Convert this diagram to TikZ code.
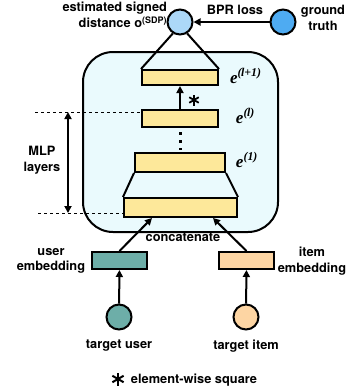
\documentclass[tikz,border=0pt]{standalone}
\usepackage{fontspec}
\setmainfont{TeX Gyre Heros}
\newfontfamily\eserif{Liberation Serif}
\usetikzlibrary{arrows.meta,calc}
\definecolor{boxfill}{HTML}{EAFAFD}
\definecolor{barfill}{HTML}{FDE89A}
\definecolor{estfill}{HTML}{ACD8F8}
\definecolor{gtfill}{HTML}{4EABF2}
\definecolor{userfill}{HTML}{6DAEA8}
\definecolor{itemfill}{HTML}{FDD5A3}
\begin{document}
\begin{tikzpicture}[x=1pt,y=-1pt,
  line width=2pt,
  lbl/.style={font=\fontsize{12.8}{15.5}\selectfont\bfseries, inner sep=0pt, align=center},
  elbl/.style={font=\fontsize{17}{17}\selectfont\eserif\bfseries\itshape, inner sep=0pt, anchor=base west},
  bar/.style={draw, fill=barfill, inner sep=0pt},
  emb/.style={draw, inner sep=0pt, minimum width=55pt, minimum height=17pt},
  ball/.style={draw, circle, inner sep=0pt, minimum size=25pt},
  arr/.style={-{Triangle[length=7pt,width=7pt]}},
  darr/.style={{Triangle[length=7pt,width=7pt]}-{Triangle[length=7pt,width=7pt]}},
  dline/.style={line width=1pt, dash pattern=on 3pt off 3pt}
]
\useasboundingbox (0,0) rectangle (351,392);
% big container
\node[draw, fill=boxfill, rounded corners=30pt, minimum width=195pt, minimum height=180pt, inner sep=0pt] (box) at (180.5,142) {};
% circles
\node[ball, fill=estfill] (est) at (180,22) {};
\node[ball, fill=gtfill] (gt) at (283,22) {};
\draw[arr] (gt) -- (est);
\node[lbl] (bpr) at (235,10) {BPR loss};
\node[lbl] (gtl) at (323,18) {ground\\truth};
\node[lbl, align=right, anchor=east] (estl) at (168,15) {estimated signed\\distance o\textsuperscript{(SDP)}};
% bars
\node[bar, minimum width=76pt, minimum height=15pt] (bar3) at (180,77.5) {};
\node[bar, minimum width=76pt, minimum height=17pt] (bar2) at (180,118.5) {};
\node[bar, minimum width=90pt, minimum height=19pt] (bar1) at (180,162.5) {};
\node[bar, minimum width=113pt, minimum height=19pt] (bar0) at (180.5,207.5) {};
\draw (est.238) -- (bar3.north west);
\draw (est.302) -- (bar3.north east);
\draw (bar1.south west) -- (bar0.north west);
\draw (bar1.south east) -- (bar0.north east);
\draw[arr] (bar2.north) -- (bar3.south);
\draw[line width=3pt, dash pattern=on 3pt off 5pt, shorten <=4pt, shorten >=2pt] (bar2.south) -- (bar1.north);
% asterisk
\coordinate (ast) at (194,100);
\foreach \a in {90,30,150} \draw[line width=1.8pt] ($(ast)+(\a:5.5)$) -- ($(ast)+(\a+180:5.5)$);
% e labels
\node[elbl] (e3) at (229,83) {e\textsuperscript{(\kern-0.5pt l+1)}};
\node[elbl] (e2) at (235,123) {e\textsuperscript{(\kern-0.5pt l)}};
\node[elbl] (e1) at (235,167) {e\textsuperscript{(1)}};
% MLP layers
\coordinate (dl1) at (35,112);
\coordinate (dl0) at (38,213);
\draw[dline] (dl1) -- (dl1 -| bar2.west);
\draw[dline] (dl0) -- (dl0 -| bar0.west);
\coordinate (da1) at (68,112);
\coordinate (da0) at (68,213);
\draw[darr] (da1) -- (da0);
\node[lbl] (mlp) at (42,160) {MLP\\layers};
% embeddings
\node[emb, fill=userfill] (ue) at (119.5,260.5) {};
\node[emb, fill=itemfill] (ie) at (246.5,260.5) {};
\draw[arr] (ue.north) -- ($(bar0.south)+(-28.5,0)$);
\draw[arr] (ie.north) -- ($(bar0.south)+(32.5,0)$);
\node[lbl] (cat) at (183,237) {concatenate};
\node[lbl] (uel) at (51,261) {user\\embedding};
\node[lbl] (iel) at (312,261) {item\\embedding};
% targets
\node[ball, fill=userfill] (tu) at (119,317) {};
\node[ball, fill=itemfill] (ti) at (246,317) {};
\draw[arr] (tu) -- (ue);
\draw[arr] (ti) -- (ie);
\node[lbl] (tul) at (119,346) {target user};
\node[lbl] (til) at (246,346) {target item};
% legend
\coordinate (ast2) at (118,379);
\foreach \a in {90,30,150} \draw[line width=2pt] ($(ast2)+(\a:6.5)$) -- ($(ast2)+(\a+180:6.5)$);
\node[lbl, anchor=west] (leg) at (130,380) {element-wise square};
\end{tikzpicture}
\end{document}
